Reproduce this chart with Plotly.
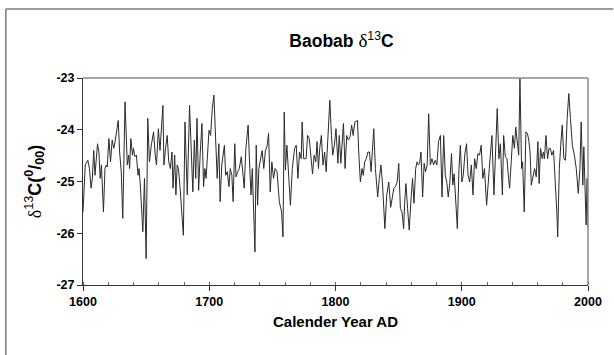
import plotly.graph_objects as go

years = [
    1600.0, 1601.8, 1603.8, 1605.1, 1606.4, 1607.4, 1608.5, 1609.5, 1611.5, 1612.6,
    1613.6, 1614.6, 1616.2, 1617.4, 1618.5, 1619.2, 1620.5, 1621.8, 1623.1, 1624.4,
    1625.6, 1627.9, 1629.0, 1630.3, 1631.5, 1633.3, 1635.1, 1636.2, 1636.9, 1637.9,
    1639.2, 1640.0, 1641.0, 1642.3, 1643.6, 1644.4, 1645.4, 1646.4, 1647.4, 1648.7,
    1650.0, 1651.3, 1652.6, 1654.1, 1655.9, 1657.2, 1658.2, 1659.7, 1661.0, 1663.3,
    1664.1, 1665.4, 1666.7, 1667.9, 1669.2, 1670.5, 1671.3, 1672.6, 1673.6, 1674.6,
    1675.6, 1676.9, 1678.2, 1679.5, 1680.8, 1682.6, 1684.4, 1685.7, 1687.0, 1688.2,
    1689.3, 1690.3, 1691.6, 1692.9, 1694.2, 1695.5, 1696.5, 1697.5, 1698.5, 1699.8,
    1701.1, 1702.4, 1703.7, 1705.0, 1706.3, 1707.6, 1708.6, 1709.9, 1711.0, 1712.0,
    1713.0, 1714.3, 1715.6, 1716.6, 1717.9, 1718.9, 1720.2, 1721.2, 1722.5, 1723.8,
    1725.4, 1726.4, 1727.7, 1729.0, 1730.8, 1732.1, 1733.1, 1734.1, 1736.2, 1737.2,
    1738.3, 1739.3, 1740.3, 1741.9, 1743.2, 1744.5, 1745.7, 1747.0, 1748.3, 1749.6,
    1750.9, 1752.2, 1753.7, 1755.5, 1757.3, 1758.4, 1759.4, 1760.3, 1761.5, 1762.7,
    1764.3, 1765.8, 1767.6, 1768.9, 1770.2, 1771.5, 1772.8, 1773.6, 1774.8, 1776.7,
    1777.9, 1779.2, 1780.5, 1781.8, 1783.1, 1784.4, 1785.4, 1786.5, 1787.5, 1788.8,
    1790.1, 1791.4, 1792.6, 1794.2, 1795.5, 1796.8, 1797.8, 1799.1, 1800.4, 1801.9,
    1803.0, 1804.2, 1805.0, 1806.3, 1807.6, 1808.9, 1810.2, 1811.5, 1812.8, 1814.0,
    1815.3, 1817.4, 1818.4, 1819.7, 1821.0, 1822.0, 1823.1, 1824.4, 1825.7, 1826.9,
    1828.2, 1830.3, 1831.6, 1833.4, 1834.7, 1836.0, 1837.3, 1839.1, 1840.6, 1842.2,
    1843.7, 1845.0, 1846.2, 1847.5, 1848.8, 1850.1, 1851.4, 1852.7, 1854.0, 1854.8,
    1855.8, 1857.1, 1858.4, 1859.7, 1861.0, 1862.2, 1863.5, 1864.6, 1865.6, 1866.6,
    1867.7, 1869.0, 1870.2, 1871.3, 1872.6, 1873.8, 1875.1, 1876.4, 1877.7, 1879.0,
    1880.3, 1881.6, 1883.1, 1884.4, 1885.7, 1887.0, 1888.3, 1889.3, 1890.6, 1891.9,
    1892.9, 1894.0, 1895.3, 1896.5, 1897.8, 1898.9, 1900.1, 1901.2, 1902.5, 1903.8,
    1905.0, 1906.3, 1907.6, 1908.9, 1910.2, 1911.5, 1912.8, 1914.1, 1915.4, 1916.7,
    1918.0, 1919.7, 1921.8, 1923.9, 1925.5, 1926.8, 1928.1, 1929.4, 1930.6, 1932.2,
    1933.2, 1934.5, 1935.8, 1937.1, 1937.9, 1939.2, 1940.4, 1941.7, 1942.8, 1943.8,
    1945.1, 1946.1, 1947.4, 1948.2, 1949.5, 1950.8, 1952.0, 1953.1, 1954.1, 1955.1,
    1956.4, 1957.7, 1959.0, 1960.3, 1961.3, 1962.4, 1963.7, 1964.7, 1965.5, 1966.7,
    1968.0, 1969.1, 1970.1, 1971.4, 1972.7, 1974.0, 1975.3, 1976.0, 1977.3, 1978.4,
    1979.6, 1980.9, 1982.2, 1983.5, 1984.8, 1986.1, 1987.6, 1989.2, 1990.7, 1992.3,
    1993.6, 1994.6, 1995.9, 1996.7, 1997.7, 1998.5, 1999.3, 2000.0,
]

d13c = [
    -25.59, -24.68, -24.59, -24.75, -25.13, -24.94, -24.40, -24.88, -24.27, -24.43,
    -24.94, -24.68, -25.59, -24.75, -24.68, -24.72, -24.17, -24.62, -24.20, -24.36,
    -24.20, -23.82, -24.43, -24.81, -25.71, -23.46, -24.68, -24.49, -24.75, -24.17,
    -24.49, -24.36, -24.52, -24.49, -24.88, -24.75, -25.07, -25.52, -25.97, -24.94,
    -26.49, -23.78, -24.62, -24.30, -24.04, -24.49, -24.68, -23.98, -24.40, -23.53,
    -24.68, -24.36, -24.11, -24.62, -24.75, -24.43, -25.13, -24.49, -25.26, -24.68,
    -24.75, -25.13, -25.59, -26.04, -23.85, -25.26, -23.53, -24.43, -25.20, -24.20,
    -24.94, -23.78, -25.17, -24.43, -23.88, -25.10, -24.75, -24.94, -24.43, -24.01,
    -24.11, -23.59, -23.33, -24.11, -24.94, -24.27, -25.39, -24.68, -24.49, -24.30,
    -24.88, -24.81, -25.10, -24.75, -24.88, -25.39, -24.27, -24.91, -24.81, -24.75,
    -24.52, -24.75, -25.13, -24.36, -23.91, -24.75, -25.26, -24.75, -26.36, -24.30,
    -25.46, -24.75, -24.62, -24.40, -24.75, -24.40, -24.33, -24.07, -25.20, -24.62,
    -24.94, -24.75, -24.81, -25.39, -25.59, -26.07, -23.66, -24.78, -24.30, -24.75,
    -25.46, -24.75, -24.36, -24.30, -24.94, -24.43, -24.56, -23.85, -24.56, -24.56,
    -24.11, -24.17, -24.49, -24.85, -24.49, -24.62, -24.23, -24.75, -24.36, -24.11,
    -24.68, -24.43, -24.81, -24.11, -23.43, -24.11, -24.49, -24.30, -23.98, -24.65,
    -24.11, -24.65, -24.36, -23.88, -24.75, -24.11, -24.20, -24.14, -23.91, -24.11,
    -23.85, -23.82, -24.43, -25.01, -24.75, -24.88, -24.62, -24.56, -24.43, -24.43,
    -24.81, -23.98, -24.75, -25.30, -24.94, -24.68, -25.07, -25.91, -25.26, -25.01,
    -25.50, -25.26, -25.13, -25.10, -25.01, -24.65, -25.52, -25.59, -25.91, -25.39,
    -25.04, -25.52, -25.94, -25.39, -24.94, -25.42, -24.75, -24.62, -24.68, -24.65,
    -24.43, -25.30, -24.65, -24.81, -24.68, -23.69, -24.68, -24.56, -24.68, -24.59,
    -24.68, -24.23, -24.11, -25.30, -24.11, -24.88, -25.04, -25.30, -25.01, -24.46,
    -25.07, -24.85, -25.52, -25.91, -24.75, -24.30, -25.01, -24.88, -24.46, -24.27,
    -24.88, -25.01, -24.68, -25.26, -24.56, -24.75, -24.46, -24.49, -24.30, -24.94,
    -24.75, -25.46, -24.75, -24.11, -25.26, -24.43, -23.59, -24.56, -24.27, -25.26,
    -24.11, -24.52, -24.56, -24.94, -25.13, -24.62, -24.11, -24.36, -23.95, -24.20,
    -24.49, -23.01, -24.75, -24.62, -25.59, -24.04, -24.07, -24.20, -24.43, -25.07,
    -24.88, -24.75, -24.91, -24.23, -25.04, -24.36, -24.56, -24.43, -24.56, -24.11,
    -24.56, -24.36, -24.36, -24.49, -24.40, -24.94, -25.59, -26.07, -24.75, -24.30,
    -23.91, -24.56, -24.59, -23.78, -23.30, -23.78, -24.30, -24.49, -24.75, -25.23,
    -24.75, -23.85, -25.07, -24.33, -25.39, -25.84, -24.94, -25.91,
]

x_ticks = [1600, 1700, 1800, 1900, 2000]
y_ticks = [-27, -26, -25, -24, -23]
y_labels = ["-27", "-26", "-25", "-24", "-23"]

fig = go.Figure()
fig.add_trace(go.Scatter(
    x=years, y=d13c, mode="lines",
    line=dict(color="#2a2a2a", width=1),
    hoverinfo="skip", showlegend=False,
))

font_family = "Liberation Sans, Arial, sans-serif"

fig.update_layout(
    width=614, height=355,
    margin=dict(l=83, r=14, t=78, b=70),
    paper_bgcolor="white", plot_bgcolor="white",
    font=dict(family=font_family, color="black"),
    title=dict(
        text="<b>Baobab</b> <span style='font-family:Liberation Serif;font-size:19px'>δ</span><sup>13</sup><b>C</b>",
        x=(341.5) / 614, xanchor="center",
        y=1 - 41 / 355, yanchor="middle",
        font=dict(size=17.5, family=font_family, color="black"),
    ),
    xaxis=dict(
        range=[1600, 2000],
        tickvals=x_ticks, ticktext=[f"<b>{v}</b>" for v in x_ticks],
        ticks="outside", ticklen=5, tickwidth=1, tickcolor="#333",
        minor=dict(dtick=20, tick0=1600, ticks="inside", ticklen=3, tickcolor="#666", tickwidth=1),
        showline=True, linecolor="#333", linewidth=1,
        showgrid=False, zeroline=False,
        tickfont=dict(size=12.5, family=font_family),
        title=dict(text="<b>Calender Year AD</b>", font=dict(size=15, family=font_family), standoff=8),
    ),
    yaxis=dict(
        range=[-27, -23],
        tickvals=y_ticks, ticktext=[f"<b>{t}</b>" for t in y_labels],
        ticks="outside", ticklen=5, tickwidth=1, tickcolor="#333",
        showline=True, linecolor="#333", linewidth=1,
        showgrid=False, zeroline=False,
        tickfont=dict(size=12.5, family=font_family),
        title=dict(
            text="<span style='font-family:Liberation Serif'>δ</span><sup>13</sup><b>C(<sup>0</sup>/<sub>00</sub>)</b>",
            font=dict(size=18, family=font_family), standoff=10,
        ),
    ),
    shapes=[
        dict(type="line", xref="paper", yref="paper", x0=0, x1=1, y0=1, y1=1,
             line=dict(color="#8a8a8a", width=1.5)),
        dict(type="line", xref="paper", yref="paper", x0=1, x1=1, y0=0, y1=1,
             line=dict(color="#8a8a8a", width=1.5)),
        dict(type="line", xref="paper", yref="paper", x0=-79 / 517, x1=1.05, y0=276 / 207, y1=276 / 207,
             line=dict(color="#7a7a7a", width=1.5)),
        dict(type="line", xref="paper", yref="paper", x0=-79 / 517, x1=-79 / 517, y0=276 / 207, y1=-0.4,
             line=dict(color="#7a7a7a", width=1.5)),
    ],
)

fig.write_html("out.html")
